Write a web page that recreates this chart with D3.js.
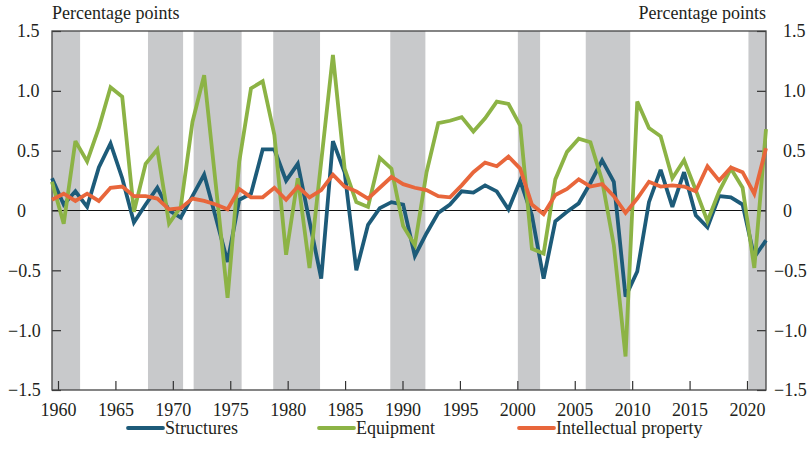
<!DOCTYPE html>
<html>
<head>
<meta charset="utf-8">
<script src="https://cdn.jsdelivr.net/npm/d3@7"></script>
<style>
  body { margin: 0; background: #fff; }
</style>
</head>
<body>
<div id="chart"></div>
<script>
// Years and contributions (percentage points)
const years = d3.range(1960, 2022);

const structures = [
  0.27, 0.05, 0.16, 0.03, 0.36, 0.56, 0.27, -0.10, 0.05, 0.19,
  0.00, -0.06, 0.12, 0.30, -0.06, -0.43, 0.09, 0.14, 0.51, 0.51,
  0.25, 0.39, -0.09, -0.57, 0.58, 0.32, -0.50, -0.12, 0.02, 0.07,
  0.05, -0.38, -0.19, -0.02, 0.05, 0.16, 0.15, 0.21, 0.16, 0.01,
  0.25, -0.04, -0.57, -0.09, -0.01, 0.06, 0.23, 0.42, 0.24, -0.72,
  -0.51, 0.07, 0.34, 0.03, 0.32, -0.04, -0.14, 0.12, 0.11, 0.05,
  -0.39, -0.25
];

const equipment = [
  0.24, -0.11, 0.58, 0.41, 0.69, 1.03, 0.95, -0.01, 0.39, 0.51,
  -0.11, 0.03, 0.74, 1.13, 0.21, -0.73, 0.41, 1.02, 1.08, 0.63,
  -0.37, 0.27, -0.48, 0.41, 1.30, 0.35, 0.07, 0.03, 0.44, 0.35,
  -0.13, -0.29, 0.32, 0.73, 0.75, 0.78, 0.66, 0.77, 0.91, 0.89,
  0.71, -0.32, -0.36, 0.26, 0.49, 0.60, 0.57, 0.25, -0.29, -1.22,
  0.91, 0.69, 0.62, 0.27, 0.42, 0.17, -0.09, 0.16, 0.35, 0.19,
  -0.48, 0.68
];

const intellectual = [
  0.09, 0.14, 0.08, 0.14, 0.08, 0.19, 0.20, 0.12, 0.12, 0.10,
  0.01, 0.02, 0.10, 0.08, 0.05, 0.01, 0.18, 0.11, 0.11, 0.19,
  0.09, 0.20, 0.11, 0.17, 0.30, 0.20, 0.16, 0.10, 0.19, 0.28,
  0.22, 0.19, 0.17, 0.12, 0.11, 0.21, 0.32, 0.40, 0.37, 0.45,
  0.35, 0.05, -0.03, 0.13, 0.18, 0.26, 0.20, 0.22, 0.12, -0.02,
  0.10, 0.24, 0.20, 0.21, 0.20, 0.16, 0.37, 0.25, 0.36, 0.32,
  0.14, 0.52
];

// Shaded periods as drawn on the chart
const recessions = [
  [1960.0, 1962.4], [1968.2, 1971.2], [1972.1, 1976.2], [1978.9, 1982.9],
  [1988.9, 1991.9], [1999.8, 2001.7], [2005.6, 2009.4], [2019.5, 2021.0]
];

const yTicks = [-1.5, -1.0, -0.5, 0, 0.5, 1.0, 1.5];
const xTicks = [1960, 1965, 1970, 1975, 1980, 1985, 1990, 1995, 2000, 2005, 2010, 2015, 2020];

const seriesNames = ["Structures", "Equipment", "Intellectual property"];
const seriesColors = ["#1d5b79", "#8cb345", "#e8663b"];
const seriesValues = [structures, equipment, intellectual];

// Layout
const W = 809, H = 470;
const plot = { left: 52, right: 766, top: 31, bottom: 390 };
const FONT = "'Liberation Serif', 'DejaVu Serif', serif";
const INK = "#231f20";

const svg = d3.select("#chart").append("svg")
  .attr("width", W).attr("height", H)
  .style("font-family", FONT);

// data scale and tick scale (tick marks sit slightly offset from data points)
const x = d3.scaleLinear().domain([1960, 2021]).range([plot.left, plot.right]);
const xt = d3.scaleLinear().domain([1960, 2020]).range([58, 747]);
const y = d3.scaleLinear().domain([-1.5, 1.5]).range([plot.bottom, plot.top]);

// recession bars
svg.append("g").selectAll("rect")
  .data(recessions)
  .join("rect")
  .attr("x", d => x(d[0]))
  .attr("width", d => x(d[1]) - x(d[0]))
  .attr("y", plot.top)
  .attr("height", plot.bottom - plot.top)
  .attr("fill", "#c8c9cb");

// zero line
svg.append("line")
  .attr("x1", plot.left).attr("x2", plot.right)
  .attr("y1", y(0)).attr("y2", y(0))
  .attr("stroke", "#111").attr("stroke-width", 1.2);

const fmt = d => d === 0 ? "0" : d3.format(".1f")(d).replace("-", "\u2212");

// axes
const yl = svg.append("g")
  .attr("transform", `translate(${plot.left},0)`)
  .call(d3.axisLeft(y).tickValues(yTicks).tickFormat(fmt).tickSize(-9));
const yr = svg.append("g")
  .attr("transform", `translate(${plot.right},0)`)
  .call(d3.axisRight(y).tickValues(yTicks).tickFormat(fmt).tickSize(-9));
const xb = svg.append("g")
  .attr("transform", `translate(0,${plot.bottom})`)
  .call(d3.axisBottom(xt).tickValues(xTicks).tickFormat(d3.format("d")).tickSize(-9).tickPadding(13));

[yl, yr, xb].forEach(g => {
  g.attr("font-family", null);
  g.select(".domain").remove();
  g.selectAll(".tick line").attr("stroke", "#333").attr("stroke-width", 1.2);
  g.selectAll(".tick text")
    .style("font-family", FONT)
    .style("font-size", "18px")
    .attr("fill", INK);
});

// value labels are left aligned, with the minus sign hanging to the left
yl.selectAll(".tick text")
  .attr("text-anchor", "start")
  .attr("x", d => 17 - plot.left - (d < 0 ? 9 : 0))
  .attr("dy", "0.33em");
yr.selectAll(".tick text")
  .attr("text-anchor", "start")
  .attr("x", d => 783 - plot.right - (d < 0 ? 9 : 0))
  .attr("dy", "0.33em");

// frame
svg.append("rect")
  .attr("x", plot.left).attr("y", plot.top)
  .attr("width", plot.right - plot.left).attr("height", plot.bottom - plot.top)
  .attr("fill", "none").attr("stroke", "#444").attr("stroke-width", 1.3);

// lines
const line = d3.line()
  .x((d, i) => x(years[i]))
  .y(d => y(d));

svg.append("g").selectAll("path")
  .data(seriesValues)
  .join("path")
  .attr("d", d => line(d))
  .attr("fill", "none")
  .attr("stroke", (d, i) => seriesColors[i])
  .attr("stroke-width", 3.8)
  .attr("stroke-linejoin", "miter")
  .attr("stroke-miterlimit", 3);

// unit labels
svg.append("text").attr("x", plot.left).attr("y", 19)
  .style("font-family", FONT).style("font-size", "18px").attr("fill", INK)
  .text("Percentage points");
svg.append("text").attr("x", plot.right).attr("y", 19)
  .attr("text-anchor", "end")
  .style("font-family", FONT).style("font-size", "18px").attr("fill", INK)
  .text("Percentage points");

// legend
const legendX = [128, 319, 519];
const legend = svg.append("g").selectAll("g")
  .data(seriesNames)
  .join("g")
  .attr("transform", (d, i) => `translate(${legendX[i]},428)`);
legend.append("line")
  .attr("x1", 0).attr("x2", 35)
  .attr("stroke", (d, i) => seriesColors[i])
  .attr("stroke-width", 3.8)
  .attr("stroke-linecap", "round");
legend.append("text")
  .attr("x", 37).attr("dy", "0.33em")
  .style("font-family", FONT).style("font-size", "18px").attr("fill", INK)
  .text(d => d);
</script>
</body>
</html>
